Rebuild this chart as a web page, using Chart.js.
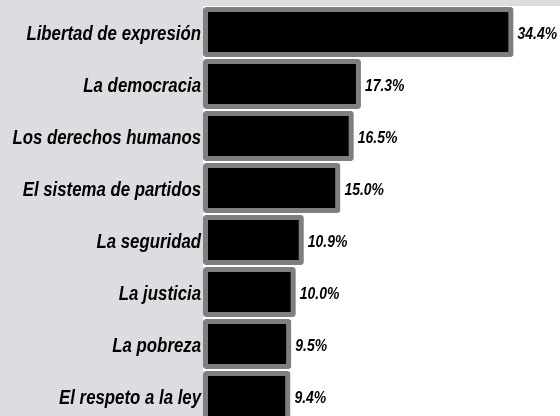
<!DOCTYPE html>
<html>
<head>
<meta charset="utf-8">
<script src="https://cdn.jsdelivr.net/npm/chart.js@4"></script>
<style>
  html, body { margin: 0; padding: 0; overflow: hidden; background: #dcdde0; }
  canvas { display: block; }
</style>
</head>
<body>
<canvas id="myChart"></canvas>
<script>
// chart data
var categories = ['Libertad de expresión', 'La democracia', 'Los derechos humanos',
    'El sistema de partidos', 'La seguridad', 'La justicia', 'La pobreza', 'El respeto a la ley'];
var values = [34.4, 17.3, 16.5, 15.0, 10.9, 10.0, 9.5, 9.4];
var valueLabels = ['34.4%', '17.3%', '16.5%', '15.0%', '10.9%', '10.0%', '9.5%', '9.4%'];

window.addEventListener('load', function() {
    var canvas = document.getElementById('myChart');
    canvas.width = 560;
    canvas.height = 424;
    var context = canvas.getContext('2d');

    var fontFamily = '"Liberation Sans", Arial, sans-serif';

    // gray page, white plot area
    var backgroundPlugin = {
        id: 'bg',
        beforeDraw: function(chart) {
            var ctx = chart.ctx, a = chart.chartArea;
            ctx.save();
            ctx.fillStyle = '#dcdde0';
            ctx.fillRect(0, 0, chart.width, chart.height);
            ctx.fillStyle = '#ffffff';
            ctx.fillRect(a.left, a.top, chart.width - a.left, chart.height - a.top);
            ctx.restore();
        }
    };

    // squeezed text, the original used a narrow face
    function narrowText(ctx, text, x, y, squeeze) {
        ctx.save();
        ctx.translate(x, y);
        ctx.scale(squeeze, 1);
        ctx.fillText(text, 0, 0);
        ctx.restore();
    }

    // category names on the left and percentages after the bars
    var textPlugin = {
        id: 'texts',
        afterDatasetsDraw: function(chart) {
            var ctx = chart.ctx;
            var yScale = chart.scales.y;
            var meta = chart.getDatasetMeta(0);
            ctx.save();
            ctx.fillStyle = '#000';
            ctx.textBaseline = 'alphabetic';

            ctx.font = 'italic bold 20px ' + fontFamily;
            ctx.textAlign = 'right';
            categories.forEach(function(name, i) {
                narrowText(ctx, name, chart.chartArea.left - 2, yScale.getPixelForTick(i) + 7.5, 0.84);
            });

            ctx.font = 'italic bold 17px ' + fontFamily;
            ctx.textAlign = 'left';
            meta.data.forEach(function(bar, i) {
                narrowText(ctx, valueLabels[i], bar.x + 4, bar.y + 6.5, 0.82);
            });
            ctx.restore();
        }
    };

    new Chart(context, {
        type: 'bar',
        data: {
            labels: categories,
            datasets: [{
                data: values,
                base: -0.4,
                backgroundColor: '#000000',
                borderColor: '#7f7f7f',
                borderWidth: 5,
                borderSkipped: false,
                borderRadius: 3,
                barPercentage: 0.96,
                categoryPercentage: 1.0
            }]
        },
        options: {
            indexAxis: 'y',
            responsive: false,
            animation: false,
            layout: { padding: { top: 6, bottom: 2, left: 0, right: 0 } },
            plugins: {
                legend: { display: false },
                tooltip: { enabled: false }
            },
            scales: {
                x: {
                    display: false,
                    min: -0.4,
                    max: 39.6
                },
                y: {
                    grid: { display: false, drawTicks: false },
                    border: { display: false },
                    ticks: { display: false },
                    afterFit: function(scale) {
                        scale.width = 203;
                        scale.paddingTop = 0;
                        scale.paddingBottom = 0;
                    }
                }
            }
        },
        plugins: [backgroundPlugin, textPlugin]
    });
});
</script>
</body>
</html>
